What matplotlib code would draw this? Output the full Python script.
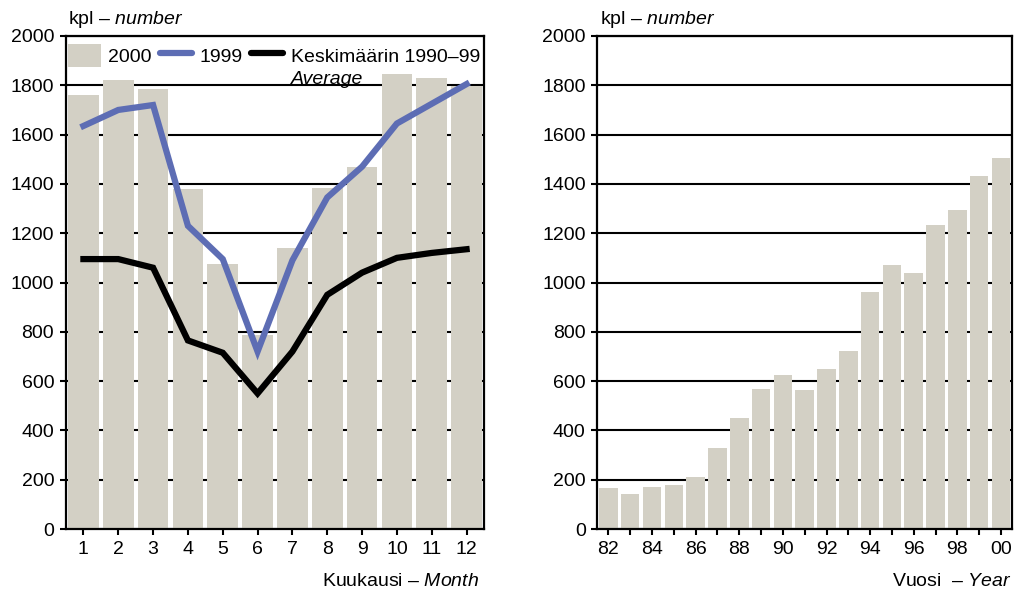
import matplotlib
matplotlib.use("Agg")
import matplotlib.pyplot as plt
from matplotlib.patches import Patch
from matplotlib.lines import Line2D

plt.rcParams['font.family'] = ['Liberation Sans', 'DejaVu Sans']
plt.rcParams['mathtext.fontset'] = 'custom'
plt.rcParams['mathtext.rm'] = 'Liberation Sans'
plt.rcParams['mathtext.it'] = 'Liberation Sans:italic'

# ---- data ----
months = [1, 2, 3, 4, 5, 6, 7, 8, 9, 10, 11, 12]
values_2000 = [1760, 1822, 1785, 1378, 1075, 788, 1140, 1385, 1468, 1846, 1830, 1798]
values_1999 = [1635, 1700, 1720, 1230, 1095, 720, 1090, 1345, 1470, 1645, 1725, 1805]
values_avg = [1095, 1095, 1060, 765, 715, 550, 720, 950, 1040, 1100, 1120, 1135]

years = list(range(1982, 2001))
values_years = [165, 140, 172, 180, 212, 330, 450, 570, 625, 562, 650, 722,
                960, 1070, 1040, 1235, 1295, 1432, 1505]
year_tick_labels = ['82', '84', '86', '88', '90', '92', '94', '96', '98', '00']

BAR = '#d3d0c5'
BLUE = '#5d6db4'
FS = 14

fig = plt.figure(figsize=(10.17, 5.96), dpi=100)
ax1 = fig.add_axes([0.0649, 0.1124, 0.4110, 0.8272])
ax2 = fig.add_axes([0.5875, 0.1124, 0.4075, 0.8272])


def style(ax):
    ax.set_ylim(0, 2000)
    ax.set_yticks(range(0, 2001, 200))
    ax.yaxis.grid(True, color='black', lw=1.5)
    ax.set_axisbelow(True)
    for s in ax.spines.values():
        s.set_linewidth(1.6)
        s.set_color('black')
    ax.tick_params(axis='both', direction='out', length=4.5, width=1.5,
                   labelsize=FS, pad=4)
    ax.text(0.005, 1.012, 'kpl – $\\mathit{number}$', transform=ax.transAxes,
            fontsize=FS, ha='left', va='bottom')


# ---- left chart ----
ax1.bar(months, values_2000, width=0.88, color=BAR, zorder=2)
ax1.plot(months, values_1999, color=BLUE, lw=4.5, zorder=3, solid_joinstyle='miter')
ax1.plot(months, values_avg, color='black', lw=4.5, zorder=3, solid_joinstyle='miter')
ax1.set_xlim(0.5, 12.5)
ax1.set_xticks(months)
style(ax1)
ax1.text(0.988, -0.09, 'Kuukausi – $\\mathit{Month}$', transform=ax1.transAxes,
         fontsize=FS, ha='right', va='top')

handles = [Patch(facecolor=BAR, edgecolor='none'),
           Line2D([], [], color=BLUE, lw=4.5, solid_capstyle='round'),
           Line2D([], [], color='black', lw=4.5, solid_capstyle='round')]
labels = ['2000', '1999', 'Keskimäärin 1990–99']
leg = ax1.legend(handles, labels, ncol=3, frameon=False, fontsize=FS,
                 loc='upper left', bbox_to_anchor=(-0.022, 1.008),
                 handlelength=1.65, handleheight=1.45, handletextpad=0.4,
                 columnspacing=0.42, borderaxespad=0.2)
leg.set_zorder(5)
ax1.annotate('Average', xy=(0, 0), xycoords=leg.get_texts()[2],
             xytext=(0, -13), textcoords='offset points',
             fontsize=FS, style='italic', ha='left', va='baseline', zorder=6)

# ---- right chart ----
ax2.bar(years, values_years, width=0.85, color=BAR, zorder=2)
ax2.set_xlim(1981.5, 2000.5)
ax2.set_xticks(years, minor=True)
ax2.set_xticks(years[::2])
ax2.set_xticklabels(year_tick_labels)
style(ax2)
ax2.tick_params(axis='x', which='minor', direction='out', length=4.5, width=1.5)
ax2.text(1.0, -0.09, 'Vuosi  – $\\mathit{Year}$', transform=ax2.transAxes,
         fontsize=FS, ha='right', va='top')

fig.savefig('out.png', dpi=100)
